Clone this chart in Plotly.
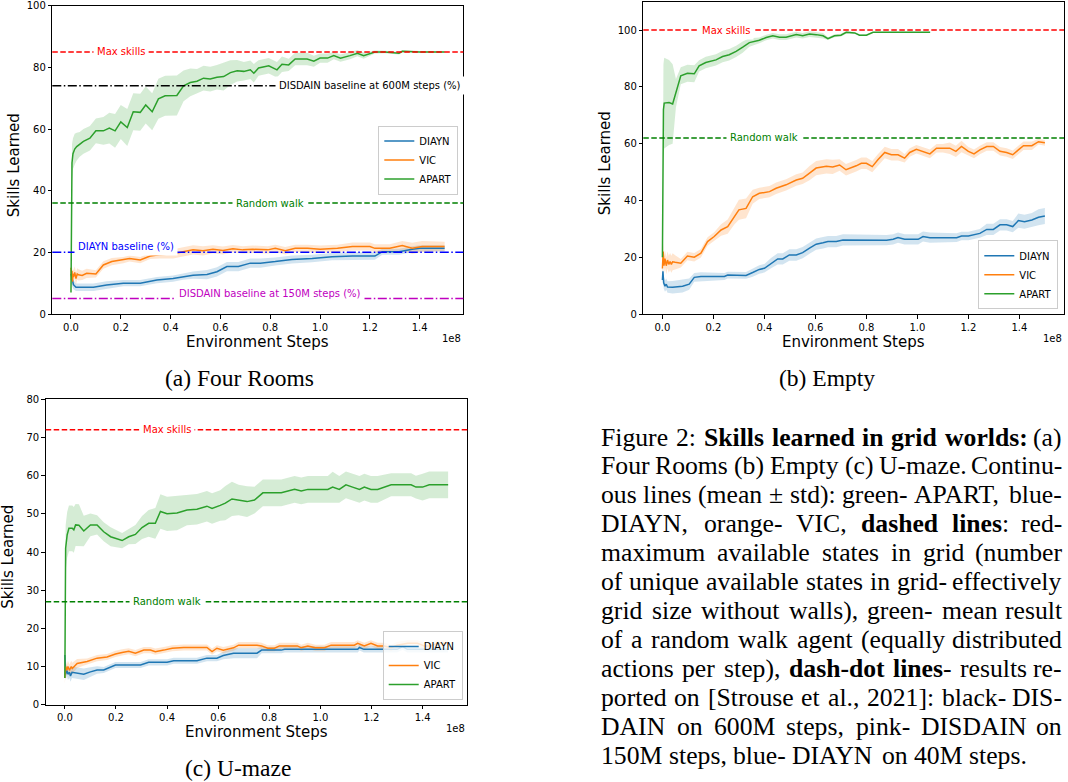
import plotly.graph_objects as go

W, H = 1068, 782

# ---------------- data (x in units of 1e8 environment steps) ----------------
# Panel (a) Four Rooms
A_APART_X = [0, 0.002, 0.004, 0.008, 0.015, 0.023, 0.035, 0.05, 0.076, 0.10, 0.13, 0.154, 0.177, 0.20,
             0.226, 0.25, 0.278, 0.30, 0.326, 0.351, 0.378, 0.425, 0.452, 0.479, 0.506, 0.532, 0.559,
             0.586, 0.613, 0.64, 0.667, 0.694, 0.72, 0.734, 0.753, 0.794, 0.827, 0.847, 0.874, 0.90,
             0.948, 0.975, 1.0, 1.03, 1.055, 1.082, 1.12, 1.15, 1.175, 1.196, 1.22, 1.26, 1.317, 1.33,
             1.4, 1.5]
A_APART_Y = [7, 40, 49, 52, 53.5, 54.3, 55, 56, 57, 59.4, 59.4, 60.3, 59.4, 62.3,
             60.5, 65.6, 65.4, 67.8, 65.6, 69.8, 70.8, 70.9, 74, 75.1, 75.5, 76.5, 76.2,
             76.8, 77, 78.3, 78.9, 78.7, 79.2, 78.1, 79.8, 80.5, 79.2, 81, 80.8, 82.7,
             82.7, 82, 83, 83, 83.8, 83, 83.8, 84.6, 83.8, 84.4, 85, 85, 84.6, 85.2,
             85, 85]
A_APART_S = [3, 8, 6, 5, 5, 4.5, 4, 4, 4, 4, 4.5, 5, 5.5, 5.5,
             6, 6, 6, 6, 6, 6.5, 6.5, 6.5, 5, 4.5, 4, 4, 4,
             4, 4.5, 4, 3.5, 3, 3, 3, 2.5, 2.5, 2.5, 2.5, 2, 2,
             2, 1.8, 1.5, 1.5, 1.2, 1.2, 1.2, 1, 1, 0.8, 0.5, 0.4, 0.4, 0.4,
             0.3, 0.3]

A_DIAYN_X = [0, 0.005, 0.01, 0.02, 0.09, 0.143, 0.21, 0.278, 0.345, 0.41, 0.45, 0.49, 0.546, 0.586,
             0.626, 0.672, 0.72, 0.76, 0.82, 0.887, 0.968, 1.048, 1.13, 1.22, 1.25, 1.317, 1.37,
             1.40, 1.5]
A_DIAYN_Y = [13, 11, 9.5, 8.7, 8.7, 9.4, 10, 10, 11, 11.5, 12.1, 12.6, 12.8, 13.7,
             15.4, 15.4, 16.5, 16.5, 17, 17.7, 18, 18.6, 18.8, 18.8, 20.2, 20.2, 21,
             21.3, 21.3]
A_DIAYN_S = [3, 2, 1.5, 1.2, 1.2, 1.2, 1, 1, 1, 1, 1, 1.2, 1.5, 1.5,
             1.5, 1.5, 1.5, 1.5, 1.3, 1.3, 1.2, 1.2, 1.2, 1.2, 1, 1, 1,
             1, 1]

A_VIC_X = [0, 0.002, 0.004, 0.006, 0.008, 0.01, 0.015, 0.02, 0.025, 0.03, 0.045, 0.063, 0.1, 0.13,
           0.164, 0.21, 0.235, 0.278, 0.318, 0.355, 0.41, 0.45, 0.49, 0.53, 0.57, 0.61, 0.65, 0.69,
           0.73, 0.79, 0.82, 0.86, 0.90, 0.95, 1.0, 1.07, 1.13, 1.2, 1.22, 1.28, 1.33, 1.37, 1.41, 1.5]
A_VIC_Y = [15, 11, 14, 10.5, 13, 12, 13.5, 11.5, 13, 12.7, 12.5, 13.2, 13, 15.9,
           17, 17.5, 18, 17.5, 18.8, 19.2, 19.5, 20.2, 20.8, 20.5, 21, 20.6, 21.2, 20.8,
           21, 20.8, 21.3, 20.5, 21.3, 21.3, 21, 21.3, 21.9, 21.9, 21.3, 21.3, 22.2, 21.3, 21.9, 21.9]
A_VIC_S = [2, 2, 2, 2, 2, 2, 2, 2, 1.8, 1.8, 1.5, 1.5, 1.2, 1.2,
           1.2, 1, 1, 1, 1, 1.2, 1.5, 1.5, 1.5, 1.5, 1.3, 1.3, 1.2, 1.2,
           1.2, 1.2, 1.2, 1.2, 1.2, 1.2, 1.2, 1.2, 1.3, 1.3, 1.3, 1.3, 1.5, 1.8, 1.8, 1.5]

# Panel (b) Empty
B_APART_X = [0, 0.002, 0.004, 0.007, 0.026, 0.04, 0.053, 0.072, 0.098, 0.125, 0.144, 0.17, 0.21,
             0.236, 0.262, 0.289, 0.315, 0.341, 0.38, 0.407, 0.433, 0.459, 0.485, 0.525, 0.55,
             0.577, 0.603, 0.63, 0.649, 0.675, 0.70, 0.721, 0.754, 0.773, 0.80, 0.826, 1.05]
B_APART_Y = [20, 71, 72, 74.3, 74.5, 74, 77.8, 83.9, 84.8, 84.6, 87.4, 88.6, 89.5,
             90.7, 91.3, 92.5, 94, 95.6, 96.4, 97.4, 98, 97.5, 97.5, 98.4, 98,
             98.6, 98.4, 98, 97, 98, 98.2, 99.2, 99, 98.2, 98.2, 99.2, 99.2]
B_APART_S = [2, 16, 16, 16, 15, 14, 5, 3, 3, 3, 2, 2, 2,
             2, 2, 2, 2, 1.5, 1, 1, 1, 1, 1, 1, 1,
             1, 1, 1, 0.5, 0.5, 0.5, 0.5, 0.3, 0.3, 0.3, 0.2, 0.2]

B_DIAYN_X = [0, 0.002, 0.005, 0.01, 0.015, 0.02, 0.04, 0.079, 0.105, 0.125, 0.151, 0.243, 0.256,
             0.328, 0.354, 0.38, 0.40, 0.426, 0.452, 0.472, 0.498, 0.525, 0.55, 0.577, 0.603,
             0.63, 0.649, 0.682, 0.708, 0.879, 0.905, 0.924, 0.95, 1.003, 1.022, 1.049, 1.154,
             1.173, 1.20, 1.245, 1.272, 1.298, 1.324, 1.35, 1.374, 1.396, 1.42, 1.449, 1.475, 1.50]
B_DIAYN_Y = [12, 15, 11, 9.8, 10.5, 9.5, 9.4, 9.8, 10.5, 12.9, 13.2, 13.2, 13.7,
             13.6, 14.6, 15.7, 16.1, 17.9, 19.4, 19.4, 20.8, 20.8, 21.6, 23.2, 24.6,
             25.1, 25.5, 25.5, 26.1, 26, 26.3, 26.9, 26.3, 26.3, 27.3, 26.9, 26.9,
             27.5, 27.5, 28.4, 29.8, 29.8, 31.4, 31.4, 30.8, 32.9, 32.5, 33.1, 34.1, 34.5]
B_DIAYN_S = [2, 2, 2, 2, 2, 2, 2.2, 2.2, 2, 1.5, 1.5, 1.2, 1.2,
             1.2, 1.5, 1.5, 1.5, 1.8, 2, 2, 2, 2, 2, 2, 2,
             2, 2, 2, 2, 1.8, 1.8, 1.8, 1.8, 1.8, 1.8, 1.8, 1.5,
             1.5, 1.5, 1.5, 2, 2, 2, 2, 2, 2.5, 2.5, 2.5, 2.8, 2.8]

B_VIC_X = [0, 0.003, 0.006, 0.01, 0.015, 0.02, 0.025, 0.03, 0.035, 0.04, 0.05, 0.072, 0.098,
           0.125, 0.151, 0.177, 0.203, 0.23, 0.256, 0.282, 0.30, 0.328, 0.354, 0.38, 0.42,
           0.446, 0.485, 0.525, 0.55, 0.577, 0.603, 0.643, 0.668, 0.695, 0.72, 0.76, 0.78,
           0.80, 0.823, 0.845, 0.872, 0.898, 0.924, 0.95, 0.97, 0.996, 1.022, 1.049, 1.075,
           1.10, 1.127, 1.151, 1.173, 1.20, 1.222, 1.245, 1.272, 1.298, 1.324, 1.35, 1.374,
           1.396, 1.416, 1.449, 1.475, 1.50]
B_VIC_Y = [16, 22, 17, 19.5, 17, 19, 17.5, 18.5, 17.5, 18.4, 18.2, 17.9, 20.4,
           20, 21.4, 25.5, 27.3, 29.6, 30.8, 34.5, 36.7, 37.2, 41.3, 42.5, 43.1,
           44.3, 45.5, 47.2, 47.8, 49.6, 51.4, 52, 51.8, 52.5, 50.8, 52.2, 53.1,
           53.1, 51.9, 54.3, 56.9, 56.1, 56.1, 54.9, 56.9, 58, 57.3, 56.4, 58.4,
           58.4, 58.4, 57.3, 59, 57.3, 56.4, 57.8, 59, 59, 57.3, 56.9, 56.1,
           57.8, 59.3, 59.3, 60.7, 60.3]
B_VIC_S = [3, 3, 3, 3, 3, 3, 3, 3, 3, 3, 2.5, 1.5, 1.5,
           1.5, 1.5, 1.5, 1.5, 2, 2.5, 3, 3.5, 3.5, 2.5, 2, 2,
           2, 2, 2, 2, 2.5, 2.5, 2.5, 2.5, 2, 2, 2, 2,
           2, 2, 2, 2, 2, 2, 1.5, 1.5, 1.5, 1.5, 1.5, 1.5,
           1.5, 2, 2, 2, 1.5, 1.5, 1.5, 1.5, 1.5, 1.5, 1.5, 1.5,
           1.5, 1.5, 1.5, 1, 1]

# Panel (c) U-maze
C_APART_X = [0, 0.003, 0.009, 0.016, 0.029, 0.035, 0.042, 0.048, 0.055, 0.074, 0.10, 0.126, 0.152,
             0.179, 0.224, 0.25, 0.276, 0.302, 0.328, 0.354, 0.374, 0.40, 0.439, 0.478, 0.517,
             0.556, 0.576, 0.608, 0.628, 0.654, 0.68, 0.713, 0.742, 0.775, 0.847, 0.899, 0.925,
             0.951, 1.029, 1.048, 1.074, 1.10, 1.126, 1.153, 1.172, 1.198, 1.224, 1.277, 1.355,
             1.374, 1.40, 1.426, 1.50]
C_APART_Y = [7, 41, 44.5, 46.2, 46.2, 45.8, 47.1, 47, 47, 45.5, 47.1, 47.1, 45.3,
             44, 43, 44, 44.6, 46.4, 47.5, 47.5, 50.6, 50, 50.2, 51, 51.2,
             52, 51.4, 52.2, 52.8, 53.9, 53.6, 53.2, 53.6, 55.5, 55.5, 56.4, 56,
             56.4, 56.4, 57, 56.4, 57.6, 57, 56.4, 57, 56.4, 56.4, 57.6, 57.6,
             57, 57, 57.6, 57.6]
C_APART_S = [2, 6, 6, 6, 6, 6, 5.5, 5.5, 5.5, 4, 3, 2.5, 2.5,
             2.5, 2, 2, 2.5, 3, 3.5, 4, 4.5, 4.5, 4.5, 4, 4,
             4, 4, 4, 4.5, 4.5, 4, 4, 3.5, 3.5, 3.5, 3.5, 3.5,
             3.5, 3.5, 4, 3.5, 3.5, 3.5, 3.5, 3.5, 3.5, 3.5, 3, 3,
             3, 3.5, 3.5, 3.5]

C_DIAYN_X = [0, 0.003, 0.008, 0.012, 0.018, 0.022, 0.028, 0.035, 0.074, 0.10, 0.126, 0.152, 0.198,
             0.296, 0.328, 0.40, 0.426, 0.517, 0.556, 0.595, 0.62, 0.66, 0.752, 0.77, 0.847,
             0.86, 1.146, 1.153, 1.17, 1.30, 1.322, 1.34, 1.50]
C_DIAYN_Y = [13, 8, 9, 8, 8.5, 7.5, 8.5, 8.4, 8, 8.6, 9.1, 9.1, 10.4,
             10.4, 11.1, 11.1, 11.5, 11.5, 12.2, 12.2, 12.9, 13.5, 13.5, 14.3, 14.3,
             14.5, 14.5, 15, 14.5, 14.5, 15.2, 14.5, 14.5]
C_DIAYN_S = [2, 1.5, 1.5, 1.5, 1.5, 1.5, 1.5, 1.5, 1.5, 1.2, 1, 0.8, 0.8,
             0.8, 0.8, 0.8, 0.8, 0.8, 0.8, 0.8, 1, 1.3, 1.3, 0.8, 0.8,
             0.8, 0.8, 0.8, 0.8, 0.8, 0.8, 0.8, 0.8]

C_VIC_X = [0, 0.003, 0.008, 0.012, 0.018, 0.025, 0.029, 0.048, 0.087, 0.126, 0.165, 0.198, 0.224,
           0.25, 0.276, 0.309, 0.335, 0.354, 0.387, 0.42, 0.465, 0.556, 0.576, 0.595, 0.62,
           0.66, 0.68, 0.752, 0.77, 0.794, 0.82, 0.84, 0.91, 0.925, 0.951, 0.98, 1.016,
           1.042, 1.133, 1.146, 1.172, 1.198, 1.224, 1.25, 1.277, 1.30, 1.342, 1.38, 1.407,
           1.43, 1.459, 1.50]
C_VIC_Y = [7, 10, 9, 10, 9, 10, 9.5, 10.8, 11.3, 12.2, 12.5, 13.3, 13.7,
           14, 13.5, 14.3, 14.3, 13.9, 14.3, 14.8, 15, 15, 13.9, 14.8, 14.3,
           14.9, 15.6, 15.6, 15.4, 14.8, 14.8, 15.4, 15.4, 14.9, 15.4, 14.9, 14.9,
           15.6, 15.6, 16.1, 15.4, 16.1, 15.4, 15.4, 14.9, 15.6, 16.1, 16.1, 15.4,
           15.4, 16.1, 16.1]
C_VIC_S = [1.5, 1.5, 1.5, 1.5, 1.5, 1.5, 1.5, 1.2, 0.8, 0.8, 0.8, 0.8, 0.8,
           0.8, 0.8, 0.8, 0.8, 0.8, 0.8, 0.8, 0.8, 0.8, 0.8, 0.8, 0.8,
           0.8, 0.8, 0.8, 0.8, 0.8, 0.8, 0.8, 0.8, 0.8, 0.8, 0.8, 0.8,
           0.8, 0.8, 0.8, 0.8, 0.8, 0.8, 0.8, 0.8, 0.8, 0.8, 0.8, 0.8,
           0.8, 0.8, 0.8]

SERIES_NAMES = ["DIAYN", "VIC", "APART"]
X_TICKS = [0.0, 0.2, 0.4, 0.6, 0.8, 1.0, 1.2, 1.4]
X_TICK_TEXT = ["0.0", "0.2", "0.4", "0.6", "0.8", "1.0", "1.2", "1.4"]

# reference lines: (value, colour, dash, label, label_x, label_y)
A_REFS = [(85, "#ff0000", "dash", "Max skills", 0.2, 85),
          (74, "#000000", "dashdot", "DISDAIN baseline at 600M steps (%)", 1.2, 74),
          (36, "#008000", "dash", "Random walk", 0.8, 36),
          (20, "#0000ff", "dashdot", "DIAYN baseline (%)", 0.22, 21.8),
          (5, "#bf00bf", "dashdot", "DISDAIN baseline at 150M steps (%)", 0.8, 6.5)]
B_REFS = [(100, "#ff0000", "dash", "Max skills", 0.25, 100),
          (62, "#008000", "dash", "Random walk", 0.4, 62)]
C_REFS = [(72, "#ff0000", "dash", "Max skills", 0.4, 72),
          (27, "#008000", "dash", "Random walk", 0.4, 27)]

CAPTION_LINES = [
    "Figure 2: <b>Skills learned in grid worlds:</b> (a)",
    "Four Rooms (b) Empty (c) U-maze. Continu-",
    "ous lines (mean ± std): green- APART, blue-",
    "DIAYN, orange- VIC, <b>dashed lines</b>: red-",
    "maximum available states in grid (number",
    "of unique available states in grid- effectively",
    "grid size without walls), green- mean result",
    "of a random walk agent (equally distributed",
    "actions per step), <b>dash-dot lines</b>- results re-",
    "ported on [Strouse et al., 2021]: black- DIS-",
    "DAIN on 600M steps, pink- DISDAIN on",
    "150M steps, blue- DIAYN on 40M steps.",
]

# ---------------- styling ----------------
COLORS = {"DIAYN": "#1f77b4", "VIC": "#ff7f0e", "APART": "#2ca02c"}
FILLS = {"DIAYN": "rgba(31,119,180,0.2)", "VIC": "rgba(255,127,14,0.2)",
         "APART": "rgba(44,160,44,0.2)"}
DASHES = {"dash": "5.5px,2.5px", "dashdot": "9px,2.5px,1.5px,2.5px"}
SANS = "DejaVu Sans"
SERIF = "Liberation Serif, Times New Roman, serif"
CAP_SIZE = 25.7
CAP_LEFT, CAP_RIGHT = 600, 1063
TICK_SIZE = 10
TITLE_SIZE = 15

# Times metrics (per 1000 em) for justifying the caption text
TIMES_REG = {' ': 250, '(': 333, ')': 333, ':': 278, ',': 250, '.': 250, '-': 333, '[': 333,
             ']': 333, '±': 564, '%': 833,
             'A': 722, 'B': 667, 'C': 667, 'D': 722, 'E': 611, 'F': 556, 'G': 722, 'H': 722,
             'I': 333, 'J': 389, 'K': 722, 'L': 611, 'M': 889, 'N': 722, 'O': 722, 'P': 556,
             'Q': 722, 'R': 667, 'S': 556, 'T': 611, 'U': 722, 'V': 722, 'W': 944, 'X': 722,
             'Y': 722, 'Z': 611,
             'a': 444, 'b': 500, 'c': 444, 'd': 500, 'e': 444, 'f': 333, 'g': 500, 'h': 500,
             'i': 278, 'j': 278, 'k': 500, 'l': 278, 'm': 778, 'n': 500, 'o': 500, 'p': 500,
             'q': 500, 'r': 333, 's': 389, 't': 278, 'u': 500, 'v': 500, 'w': 722, 'x': 500,
             'y': 500, 'z': 444}
TIMES_BOLD = {' ': 250, ':': 333, '-': 333, 'S': 556, 'a': 500, 'b': 556, 'c': 444, 'd': 556,
              'e': 444, 'g': 500, 'h': 556, 'i': 278, 'k': 556, 'l': 278, 'n': 556, 'o': 500,
              'r': 444, 's': 389, 't': 333, 'w': 722}


def char_w(ch, bold):
    if ch.isdigit():
        return 500
    table = TIMES_BOLD if bold else TIMES_REG
    return table.get(ch, TIMES_REG.get(ch, 500))


def split_words(line):
    """Split a caption line with <b> markup into words of (char, bold) pairs."""
    chars, bold, k = [], False, 0
    while k < len(line):
        if line.startswith("<b>", k):
            bold, k = True, k + 3
            continue
        if line.startswith("</b>", k):
            bold, k = False, k + 4
            continue
        chars.append((line[k], bold))
        k += 1
    words, cur = [], []
    for ch, b in chars:
        if ch == " ":
            if cur:
                words.append(cur)
            cur = []
        else:
            cur.append((ch, b))
    if cur:
        words.append(cur)
    return words


def word_markup(word):
    out, prev = "", False
    for ch, b in word:
        if b and not prev:
            out += "<b>"
        if prev and not b:
            out += "</b>"
        out += ch
        prev = b
    if prev:
        out += "</b>"
    return out


panels = [
    dict(xa="x", ya="y", legend="legend", ymax=100, ystep=20, refs=A_REFS,
         xdom=(52.3, 463.3), ydom=(5.7, 314),
         data={"DIAYN": (A_DIAYN_X, A_DIAYN_Y, A_DIAYN_S), "VIC": (A_VIC_X, A_VIC_Y, A_VIC_S),
               "APART": (A_APART_X, A_APART_Y, A_APART_S)}),
    dict(xa="x2", ya="y2", legend="legend2", ymax=110, ystep=20, refs=B_REFS,
         xdom=(643.3, 1064), ydom=(1.7, 314),
         data={"DIAYN": (B_DIAYN_X, B_DIAYN_Y, B_DIAYN_S), "VIC": (B_VIC_X, B_VIC_Y, B_VIC_S),
               "APART": (B_APART_X, B_APART_Y, B_APART_S)}),
    dict(xa="x3", ya="y3", legend="legend3", ymax=80, ystep=10, refs=C_REFS,
         xdom=(45.7, 467.3), ydom=(399.3, 704.7),
         data={"DIAYN": (C_DIAYN_X, C_DIAYN_Y, C_DIAYN_S), "VIC": (C_VIC_X, C_VIC_Y, C_VIC_S),
               "APART": (C_APART_X, C_APART_Y, C_APART_S)}),
]

fig = go.Figure()
shapes = []
annotations = []
layout_axes = {}

for i, p in enumerate(panels):
    # std bands
    for name in SERIES_NAMES:
        xs, ys, ss = p["data"][name]
        hi = [m + s for m, s in zip(ys, ss)]
        lo = [m - s for m, s in zip(ys, ss)]
        fig.add_trace(go.Scatter(x=list(xs) + list(xs)[::-1], y=hi + lo[::-1], fill="toself",
                                 fillcolor=FILLS[name], line=dict(width=0), mode="lines",
                                 showlegend=False, hoverinfo="skip", xaxis=p["xa"], yaxis=p["ya"]))
    # mean lines
    for name in SERIES_NAMES:
        xs, ys, ss = p["data"][name]
        fig.add_trace(go.Scatter(x=xs, y=ys, mode="lines", name=name,
                                 line=dict(color=COLORS[name], width=1.5),
                                 legend=p["legend"], xaxis=p["xa"], yaxis=p["ya"]))

    suffix = "" if i == 0 else str(i + 1)
    axis_common = dict(ticks="outside", ticklen=3.5, tickwidth=0.8, tickcolor="black",
                       showline=True, linecolor="black", linewidth=1, mirror=True,
                       showgrid=False, zeroline=False,
                       tickfont=dict(family=SANS, size=TICK_SIZE, color="black"))
    layout_axes["xaxis" + suffix] = dict(domain=[p["xdom"][0] / W, p["xdom"][1] / W],
                                         anchor=p["ya"], range=[-0.075, 1.575],
                                         tickvals=X_TICKS, ticktext=X_TICK_TEXT, **axis_common)
    layout_axes["yaxis" + suffix] = dict(domain=[1 - p["ydom"][1] / H, 1 - p["ydom"][0] / H],
                                         anchor=p["xa"], range=[0, p["ymax"]],
                                         tickmode="linear", tick0=0, dtick=p["ystep"],
                                         **axis_common)

    for val, col, dash, label, lx, ly in p["refs"]:
        shapes.append(dict(type="line", xref=p["xa"] + " domain", yref=p["ya"],
                           x0=0, x1=1, y0=val, y1=val, layer="above",
                           line=dict(color=col, width=1.5, dash=DASHES[dash])))
        annotations.append(dict(text=label, x=lx, y=ly, xref=p["xa"], yref=p["ya"],
                                showarrow=False, bgcolor="white", borderpad=3,
                                xanchor="center", yanchor="middle",
                                font=dict(family=SANS, size=10, color=col)))

    # axis titles and offset text
    x0, x1 = p["xdom"]
    y0, y1 = p["ydom"]
    annotations.append(dict(text="Environment Steps", x=(x0 + x1) / 2 / W, y=1 - (y1 + 27.5) / H,
                            xref="paper", yref="paper", showarrow=False,
                            xanchor="center", yanchor="middle",
                            font=dict(family=SANS, size=TITLE_SIZE, color="black")))
    annotations.append(dict(text="Skills Learned", x=(x0 - 38) / W, y=1 - ((y0 + y1) / 2 + 5) / H,
                            xref="paper", yref="paper", showarrow=False, textangle=-90,
                            xanchor="center", yanchor="middle",
                            font=dict(family=SANS, size=TITLE_SIZE, color="black")))
    annotations.append(dict(text="1e8", x=x1 / W, y=1 - (y1 + 24) / H,
                            xref="paper", yref="paper", showarrow=False,
                            xanchor="right", yanchor="middle",
                            font=dict(family=SANS, size=10, color="black")))

# sub-figure captions
for txt, cx, cy in [("(a) Four Rooms", 239, 378), ("(b) Empty", 827, 378), ("(c) U-maze", 238, 768)]:
    annotations.append(dict(text=txt, x=cx / W, y=1 - cy / H, xref="paper", yref="paper",
                            showarrow=False, xanchor="center", yanchor="middle",
                            font=dict(family=SERIF, size=23.5, color="black")))

# main caption, justified word by word (last line left-aligned)
for k, line in enumerate(CAPTION_LINES):
    words = split_words(line)
    widths = [sum(char_w(c, b) for c, b in w) * CAP_SIZE / 1000 for w in words]
    last = k == len(CAPTION_LINES) - 1
    if last or len(words) < 2:
        gap = 250 * CAP_SIZE / 1000
    else:
        gap = (CAP_RIGHT - CAP_LEFT - sum(widths)) / (len(words) - 1)
    xpos = CAP_LEFT
    ycen = 1 - (437 + k * 28.94) / H
    for j, (w, wd) in enumerate(zip(words, widths)):
        if not last and j == len(words) - 1 and len(words) > 1:
            annotations.append(dict(text=word_markup(w), x=CAP_RIGHT / W, y=ycen,
                                    xref="paper", yref="paper", showarrow=False,
                                    xanchor="right", yanchor="middle", borderpad=0,
                                    font=dict(family=SERIF, size=CAP_SIZE, color="black")))
        else:
            annotations.append(dict(text=word_markup(w), x=xpos / W, y=ycen,
                                    xref="paper", yref="paper", showarrow=False,
                                    xanchor="left", yanchor="middle", borderpad=0,
                                    font=dict(family=SERIF, size=CAP_SIZE, color="black")))
        xpos += wd + gap

legend_common = dict(bgcolor="rgba(255,255,255,0.8)", bordercolor="#cccccc", borderwidth=1,
                     font=dict(family=SANS, size=10, color="black"), itemwidth=30,
                     tracegroupgap=0)

fig.update_layout(
    width=W, height=H, template="none",
    margin=dict(l=0, r=0, t=0, b=0),
    paper_bgcolor="white", plot_bgcolor="white",
    font=dict(family=SANS, size=10, color="black"),
    shapes=shapes, annotations=annotations,
    legend=dict(x=458.3 / W, y=1 - 160 / H, xanchor="right", yanchor="middle", **legend_common),
    legend2=dict(x=1058.3 / W, y=1 - 309.3 / H, xanchor="right", yanchor="bottom", **legend_common),
    legend3=dict(x=462.7 / W, y=1 - 700 / H, xanchor="right", yanchor="bottom", **legend_common),
    **layout_axes,
)

fig.write_html("out.html")
